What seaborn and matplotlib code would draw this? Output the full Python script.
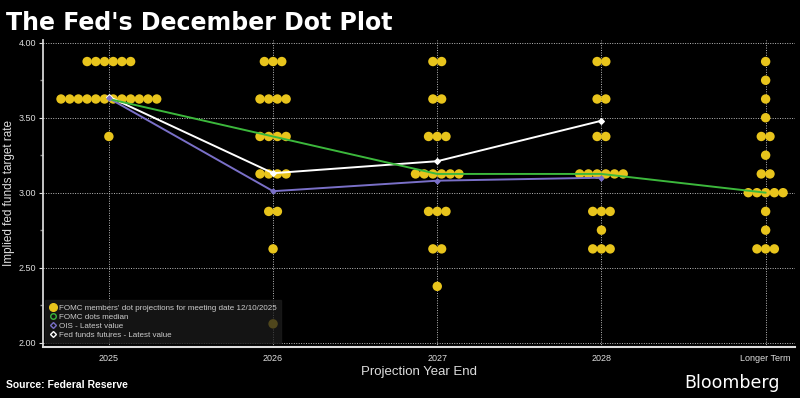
import numpy as np
import pandas as pd
import seaborn as sns
import matplotlib.pyplot as plt
from matplotlib.lines import Line2D
from matplotlib.ticker import MultipleLocator

# dot plot: (category, rate, number of participants)
categories = ["2025", "2026", "2027", "2028", "Longer Term"]
dot_cat = ["2025", "2025", "2025",
           "2026", "2026", "2026", "2026", "2026", "2026", "2026",
           "2027", "2027", "2027", "2027", "2027", "2027", "2027",
           "2028", "2028", "2028", "2028", "2028", "2028", "2028",
           "Longer Term", "Longer Term", "Longer Term", "Longer Term", "Longer Term", "Longer Term",
           "Longer Term", "Longer Term", "Longer Term", "Longer Term", "Longer Term"]
dot_rate = [3.875, 3.625, 3.375,
            3.875, 3.625, 3.375, 3.125, 2.875, 2.625, 2.125,
            3.875, 3.625, 3.375, 3.125, 2.875, 2.625, 2.375,
            3.875, 3.625, 3.375, 3.125, 2.875, 2.75, 2.625,
            3.875, 3.75, 3.625, 3.5, 3.375, 3.25, 3.125, 3.0, 2.875, 2.75, 2.625]
dot_count = [6, 12, 1,
             3, 4, 4, 4, 2, 1, 1,
             2, 2, 3, 6, 3, 2, 1,
             2, 2, 2, 6, 3, 1, 3,
             1, 1, 1, 1, 2, 1, 2, 5, 1, 1, 3]

median_rate = [3.625, 3.375, 3.125, 3.125, 3.0]
futures_rate = [3.64, 3.13, 3.21, 3.48]
ois_rate = [3.63, 3.01, 3.08, 3.10]

# expand dots, spreading them sideways around the category
rows = []
for c, r, n in zip(dot_cat, dot_rate, dot_count):
    for i in range(n):
        rows.append({"x": categories.index(c) + (i - (n - 1) / 2) * 0.053, "rate": r})
dots = pd.DataFrame(rows)

lines = pd.concat([
    pd.DataFrame({"x": range(5), "rate": median_rate, "series": "median"}),
    pd.DataFrame({"x": range(4), "rate": futures_rate, "series": "futures"}),
    pd.DataFrame({"x": range(4), "rate": ois_rate, "series": "ois"}),
])

sns.set_theme(style="dark")
plt.rcParams["font.family"] = ["Liberation Sans", "DejaVu Sans"]
fig = plt.figure(figsize=(8, 3.98), dpi=100, facecolor="black")
ax = fig.add_axes([0.054, 0.128, 0.94, 0.772], facecolor="black")

yellow = "#E8C41C"
green = "#3CB83C"
purple = "#7A70C8"

sns.scatterplot(data=dots, x="x", y="rate", color=yellow, s=46, edgecolor="none", ax=ax, zorder=2)
sns.lineplot(data=lines, x="x", y="rate", hue="series",
             palette={"median": green, "futures": "white", "ois": purple},
             hue_order=["ois", "futures", "median"], linewidth=1.4, legend=False, ax=ax, zorder=3)
ax.scatter(range(4), futures_rate, marker="D", s=8, color="white", zorder=4)
ax.scatter(range(4), ois_rate, marker="D", s=6, color=purple, zorder=4)

ax.set_xlim(-0.4, 4.18)
ax.set_ylim(1.97, 4.02)
ax.set_xticks(range(5))
ax.set_xticklabels(categories)
ax.yaxis.set_major_locator(MultipleLocator(0.5))
ax.yaxis.set_minor_locator(MultipleLocator(0.25))
ax.yaxis.set_major_formatter(plt.FormatStrFormatter("%.2f"))
ax.grid(True, which="major", color="#bbbbbb", linestyle=(0, (1, 1.5)), linewidth=0.7)
ax.tick_params(axis="both", colors="#dddddd", labelsize=6.5, length=3, width=0.8, pad=2)
ax.tick_params(axis="y", which="minor", colors="#888888", length=2, left=True)
ax.tick_params(axis="y", which="major", left=True)
ax.tick_params(axis="x", bottom=False)
for s in ["top", "right"]:
    ax.spines[s].set_visible(False)
ax.spines["left"].set_color("#dddddd")
ax.spines["bottom"].set_color("#dddddd")
ax.spines["bottom"].set_linewidth(1.5)
ax.set_xlabel("Projection Year End", color="#dddddd", fontsize=9.5, labelpad=2)
ax.set_ylabel("Implied fed funds target rate", color="#dddddd", fontsize=8.5, labelpad=3)

handles = [
    Line2D([], [], marker="o", linestyle="none", color=yellow, markersize=5.5),
    Line2D([], [], marker="o", linestyle="none", markerfacecolor="none", markeredgecolor=green, markersize=4),
    Line2D([], [], marker="D", linestyle="none", markerfacecolor="none", markeredgecolor=purple, markersize=3),
    Line2D([], [], marker="D", linestyle="none", markerfacecolor="none", markeredgecolor="white", markersize=3),
]
labels = ["FOMC members' dot projections for meeting date 12/10/2025", "FOMC dots median",
          "OIS - Latest value", "Fed funds futures - Latest value"]
leg = ax.legend(handles, labels, loc="lower left", bbox_to_anchor=(0.002, 0.012), fontsize=5.8,
                frameon=True, facecolor="#1c1c1c", edgecolor="#1c1c1c", framealpha=0.75,
                handletextpad=0.2, labelspacing=0.18, borderpad=0.55, handlelength=1.0,
                borderaxespad=0)
for t in leg.get_texts():
    t.set_color("#cccccc")
leg.get_frame().set_boxstyle("square", pad=0)
leg.set_zorder(5)

fig.text(0.008, 0.925, "The Fed's December Dot Plot", color="white", fontsize=17,
         fontweight="bold", family=["DejaVu Sans"])
fig.text(0.008, 0.025, "Source: Federal Reserve", color="white", fontsize=7.5, fontweight="bold")
fig.text(0.975, 0.025, "Bloomberg", color="white", fontsize=12.5, ha="right", family=["DejaVu Sans"])

fig.savefig("out.png", dpi=100, facecolor="black")
